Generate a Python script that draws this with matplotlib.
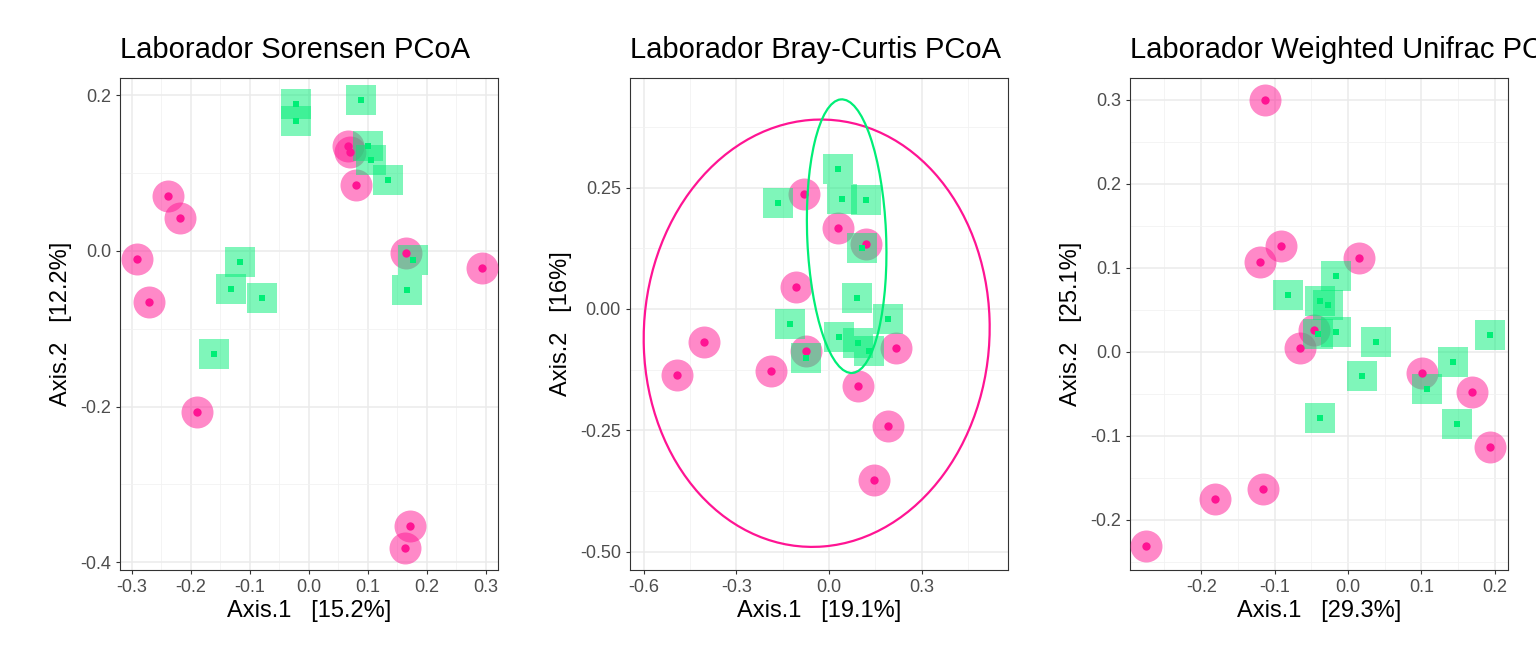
import numpy as np
import matplotlib
matplotlib.use("Agg")
import matplotlib.pyplot as plt
from matplotlib.transforms import Bbox
from matplotlib.patches import Ellipse
from matplotlib.ticker import MultipleLocator, FormatStrFormatter

plt.rcParams['font.family'] = ['Liberation Sans', 'DejaVu Sans']
PINK = "#FF1493"
GREEN = "#00EE76"

titles = ["Laborador Sorensen PCoA", "Laborador Bray-Curtis PCoA", "Laborador Weighted Unifrac PCoA"]
xlabels = ["Axis.1   [15.2%]", "Axis.1   [19.1%]", "Axis.1   [29.3%]"]
ylabels = ["Axis.2   [12.2%]", "Axis.2   [16%]", "Axis.2   [25.1%]"]

# Sorensen
s_pink_x = [-0.291, -0.270, -0.238, -0.219, -0.189, 0.066, 0.070, 0.080, 0.165, 0.172, 0.163, 0.294]
s_pink_y = [-0.010, -0.066, 0.071, 0.042, -0.207, 0.135, 0.127, 0.084, -0.003, -0.353, -0.382, -0.022]
s_green_x = [-0.022, -0.022, 0.088, 0.100, 0.105, 0.134, -0.116, -0.131, -0.080, -0.160, 0.177, 0.167]
s_green_y = [0.189, 0.167, 0.194, 0.135, 0.117, 0.091, -0.014, -0.049, -0.060, -0.132, -0.012, -0.050]
# Bray-Curtis
b_pink_x = [-0.081, 0.029, 0.120, -0.107, -0.405, -0.492, -0.188, -0.074, 0.094, 0.217, 0.191, 0.146]
b_pink_y = [0.237, 0.167, 0.134, 0.045, -0.068, -0.136, -0.128, -0.087, -0.159, -0.080, -0.241, -0.353]
b_green_x = [0.029, 0.042, 0.120, -0.165, 0.107, 0.091, 0.191, -0.126, 0.032, 0.094, 0.129, -0.074]
b_green_y = [0.289, 0.227, 0.225, 0.218, 0.126, 0.023, -0.021, -0.031, -0.058, -0.070, -0.087, -0.101]
# Bray-Curtis 95% ellipses: center x, center y, width, height, angle
b_pink_ellipse = [-0.04, -0.05, 1.12, 0.88, 3]
b_green_ellipse = [0.057, 0.15, 0.255, 0.565, 4]
# Weighted Unifrac
w_pink_x = [-0.113, -0.091, -0.120, 0.015, -0.046, -0.065, 0.101, 0.169, 0.193, -0.181, -0.116, -0.275]
w_pink_y = [0.300, 0.126, 0.107, 0.112, 0.026, 0.004, -0.025, -0.048, -0.114, -0.176, -0.163, -0.232]
w_green_x = [-0.082, -0.016, -0.038, -0.027, -0.016, -0.041, 0.038, 0.019, 0.107, 0.143, 0.148, 0.193, -0.038]
w_green_y = [0.068, 0.090, 0.060, 0.056, 0.024, 0.021, 0.011, -0.029, -0.044, -0.012, -0.086, 0.020, -0.079]

data = [(s_pink_x, s_pink_y, s_green_x, s_green_y),
        (b_pink_x, b_pink_y, b_green_x, b_green_y),
        (w_pink_x, w_pink_y, w_green_x, w_green_y)]
xlims = [(-0.320, 0.321), (-0.644, 0.579), (-0.297, 0.218)]
ylims = [(-0.410, 0.222), (-0.538, 0.476), (-0.260, 0.326)]
xmaj = [0.1, 0.3, 0.1]
ymaj = [0.2, 0.25, 0.1]
yfmt = ["%.1f", "%.2f", "%.1f"]
lefts = [120, 630, 1130]
clip_right = [512, 1024, 1536]

fig = plt.figure(figsize=(15.36, 6.72), dpi=100)
for i in range(3):
    ax = fig.add_axes([lefts[i] / 1536, 1 - 570 / 672, 378 / 1536, 492 / 672])
    px, py, gx, gy = data[i]
    ax.set_xlim(*xlims[i]); ax.set_ylim(*ylims[i])
    ax.xaxis.set_major_locator(MultipleLocator(xmaj[i]))
    ax.yaxis.set_major_locator(MultipleLocator(ymaj[i]))
    ax.xaxis.set_minor_locator(MultipleLocator(xmaj[i] / 2))
    ax.yaxis.set_minor_locator(MultipleLocator(ymaj[i] / 2))
    ax.xaxis.set_major_formatter(FormatStrFormatter("%.1f"))
    ax.yaxis.set_major_formatter(FormatStrFormatter(yfmt[i]))
    ax.grid(True, which="major", color="#EBEBEB", lw=1.1)
    ax.grid(True, which="minor", color="#F2F2F2", lw=0.6)
    ax.tick_params(which="minor", length=0)
    ax.tick_params(which="major", length=3, color="#333333", labelsize=13, labelcolor="#4D4D4D")
    ax.set_axisbelow(True)
    for sp in ax.spines.values():
        sp.set_color("#333333"); sp.set_linewidth(0.8)
    ax.scatter(px, py, s=530, c=PINK, alpha=0.5, lw=0, marker="o", zorder=3)
    ax.scatter(px, py, s=36, c=PINK, lw=0, marker="o", zorder=4)
    ax.scatter(gx, gy, s=470, c=GREEN, alpha=0.5, lw=0, marker="s", zorder=3)
    ax.scatter(gx, gy, s=25, c=GREEN, lw=0, marker="s", zorder=4)
    if i == 1:
        for e, col in ((b_pink_ellipse, PINK), (b_green_ellipse, GREEN)):
            ax.add_patch(Ellipse((e[0], e[1]), e[2], e[3], angle=e[4], fill=False,
                                 edgecolor=col, lw=1.6, zorder=5))
    ax.set_xlabel(xlabels[i], fontsize=17, labelpad=3)
    ax.set_ylabel(ylabels[i], fontsize=17, labelpad=6)
    t = fig.text(lefts[i] / 1536, 1 - 58 / 672, titles[i], fontsize=21, ha="left", va="baseline")
    t.set_clip_box(Bbox([[0, 0], [clip_right[i], 672]]))
    t.set_clip_on(True)

fig.savefig("out.png", dpi=100)
